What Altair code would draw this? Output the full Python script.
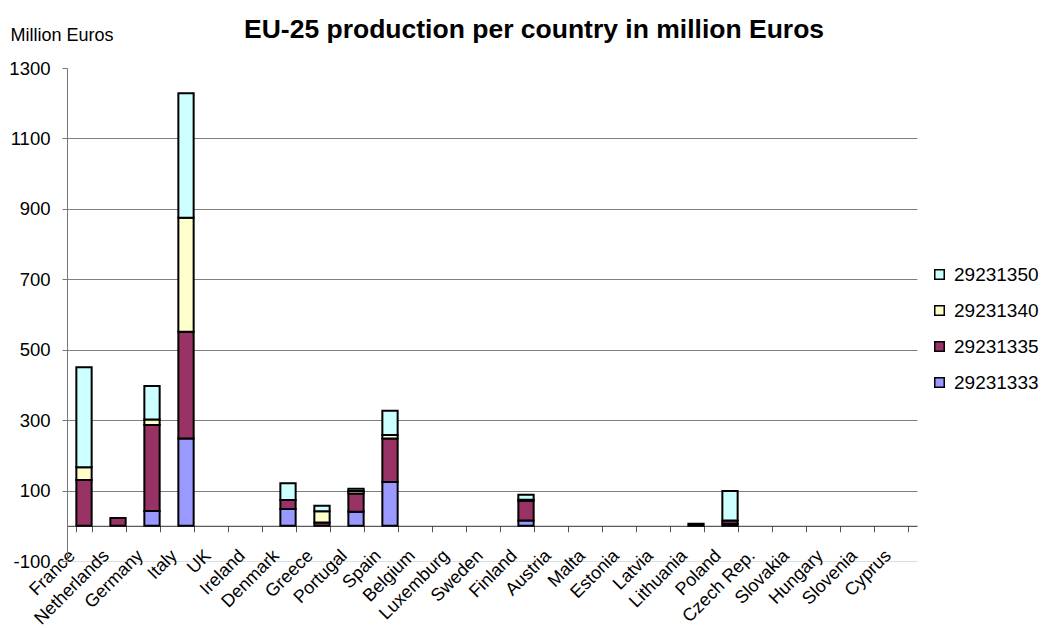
import altair as alt
import pandas as pd

countries = ["France", "Netherlands", "Germany", "Italy", "UK", "Ireland", "Denmark",
             "Greece", "Portugal", "Spain", "Belgium", "Luxemburg", "Sweden", "Finland",
             "Austria", "Malta", "Estonia", "Latvia", "Lithuania", "Poland", "Czech Rep.",
             "Slovakia", "Hungary", "Slovenia", "Cyprus"]

series = ["29231333", "29231335", "29231340", "29231350"]
colors = ["#9999FF", "#993366", "#FFFFCC", "#CCFFFF"]

v29231333 = [0, 0, 42, 248, 0, 0, 48, 0, 40, 124, 0, 0, 0, 15, 0, 0, 0, 0, 0, 6, 0, 0, 0, 0, 0]
v29231335 = [130, 22, 244, 303, 0, 0, 25, 9, 52, 124, 0, 0, 0, 56, 0, 0, 0, 0, 6, 9, 0, 0, 0, 0, 0]
v29231340 = [36, 0, 16, 324, 0, 0, 0, 32, 7, 10, 0, 0, 0, 3, 0, 0, 0, 0, 0, 0, 0, 0, 0, 0, 0]
v29231350 = [284, 0, 95, 353, 0, 0, 48, 16, 6, 69, 0, 0, 0, 14, 0, 0, 0, 0, 0, 84, 0, 0, 0, 0, 0]

y_ticks = [-100, 100, 300, 500, 700, 900, 1100, 1300]

rows = []
for k, (name, vals) in enumerate(zip(series, [v29231333, v29231335, v29231340, v29231350])):
    for c, v in zip(countries, vals):
        rows.append({"country": c, "series": name, "value": v, "rank": k})
df = pd.DataFrame(rows)

FONT = "Liberation Sans"

chart = alt.Chart(df).transform_filter("datum.value > 0").mark_bar(
    stroke="black", strokeWidth=2
).encode(
    x=alt.X("country:N",
            scale=alt.Scale(domain=countries, paddingInner=0.55, paddingOuter=0.275),
            axis=alt.Axis(title=None, offset=-35.2, labelAngle=315, labelAlign="right",
                          labelBaseline="middle", labelOffset=-12, labelPadding=21,
                          tickBand="extent", tickSize=6, tickColor="#555555",
                          domainColor="#333333", labelFontSize=18, labelColor="black",
                          labelFont=FONT, grid=False, labelOverlap=False)),
    y=alt.Y("value:Q", stack="zero",
            scale=alt.Scale(domain=[-100, 1300], nice=False, zero=False),
            axis=alt.Axis(values=y_ticks, labelExpr="'' + datum.value",
                          title="Million Euros", titleAngle=0,
                          titleAlign="left", titleBaseline="alphabetic",
                          titleX=-57, titleY=-28, titleFont=FONT, titleFontSize=18,
                          titleFontWeight="normal", titleColor="black",
                          labelFont=FONT, labelFontSize=18.5, labelColor="black",
                          labelPadding=12, tickSize=5, tickColor="#777777",
                          domainColor="#777777",
                          gridColor={"condition": [
                              {"test": "datum.value === 1300", "value": "rgba(0,0,0,0)"},
                              {"test": "datum.value === -100", "value": "#dddddd"}],
                              "value": "#808080"},
                          gridWidth=1)),
    color=alt.Color("series:N",
                    scale=alt.Scale(domain=series[::-1], range=colors[::-1]),
                    legend=alt.Legend(title=None, orient="none", legendX=863, legendY=197,
                                      symbolType="square", symbolSize=90,
                                      symbolStrokeColor="black", symbolStrokeWidth=1.5,
                                      labelFont=FONT, labelFontSize=19, labelColor="black",
                                      labelOffset=5, rowPadding=16)),
    order=alt.Order("rank:Q", sort="ascending"),
).properties(
    width=850, height=493,
    background="white",
    title=alt.TitleParams("EU-25 production per country in million Euros",
                          font=FONT, fontSize=26.5, fontWeight="bold", color="black",
                          anchor="start", frame="group", dx=177, offset=-38,
                          baseline="alphabetic"),
    padding={"left": 67, "top": 68, "right": 125, "bottom": 67},
    autosize=alt.AutoSizeParams(type="none"),
).configure_view(strokeWidth=0, stroke="transparent")

chart.save("out.html", embed_options={"renderer": "svg", "actions": False})
